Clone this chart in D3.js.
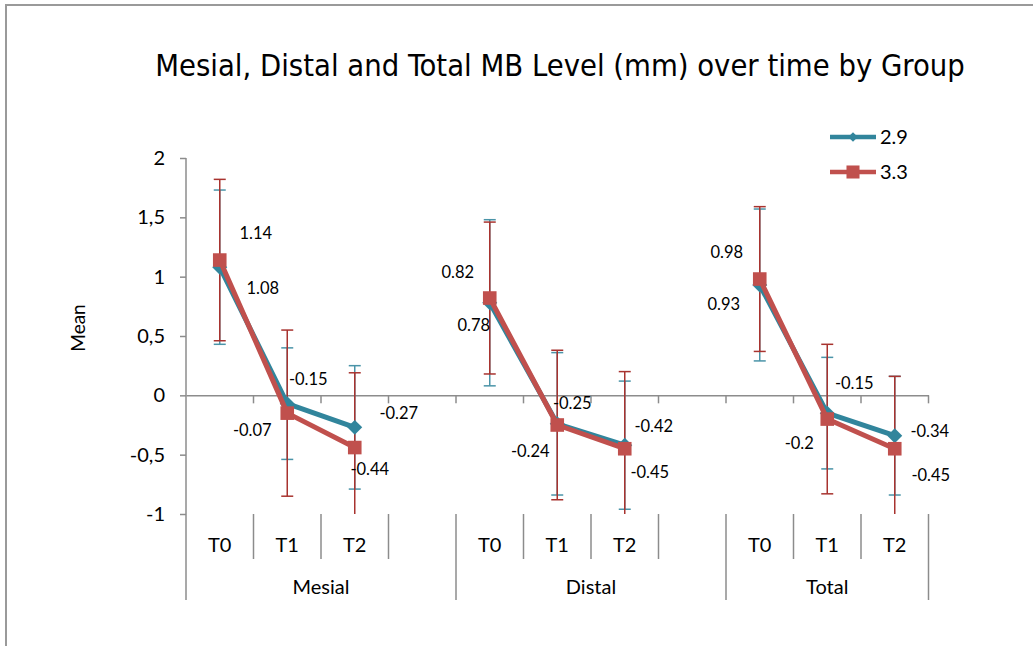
<!DOCTYPE html>
<html>
<head>
<meta charset="utf-8">
<script src="https://cdn.jsdelivr.net/npm/d3@7"></script>
<style>
  body { margin: 0; background: #fff; }
  svg { display: block; }
</style>
</head>
<body>
<div id="chart"></div>
<script>
// categories: three groups of three time points, Excel leaves an empty slot after Mesial and Distal
const groups = ["Mesial", "Distal", "Total"];
const times = ["T0", "T1", "T2"];
const seriesNames = ["2.9", "3.3"];

// means, in group order (Mesial T0..T2, Distal T0..T2, Total T0..T2)
const mean29 = [1.08, -0.07, -0.27, 0.78, -0.24, -0.42, 0.93, -0.15, -0.34];
const mean33 = [1.14, -0.15, -0.44, 0.82, -0.25, -0.45, 0.98, -0.2, -0.45];
// error bar half lengths (sd) estimated from the whiskers
const sd29 = [0.65, 0.47, 0.52, 0.70, 0.60, 0.54, 0.64, 0.47, 0.50];
const sd33 = [0.68, 0.70, 0.63, 0.64, 0.63, 0.65, 0.61, 0.63, 0.61];

const yTicks = [-1, -0.5, 0, 0.5, 1, 1.5, 2];
const yTickLabels = ["-1", "-0,5", "0", "0,5", "1", "1,5", "2"];

// where Excel dropped each data label, relative to its point (layout, not data)
const labelOffsets29 = [[43, 21], [-35, 27], [44, -14], [-16, 22], [-27, 27], [29, -19], [-36, 19], [27, -30], [35, -4]];
const labelOffsets33 = [[36, -27], [21, -34], [15, 22], [-32, -26], [15, -22], [25, 23], [-33, -27], [-28, 24], [36, 26]];

const width = 1033, height = 646;
const plot = { left: 186, right: 928.5, top: 158, bottom: 514 };
const colors = ["#31859C", "#C0504D"];
const errColors = ["#4A94A8", "#A8332F"];
const axisColor = "#8c8c8c";
const font = "Lato, 'Open Sans', sans-serif";

// flat slot list for the band scale
const slots = [];
groups.forEach((g, gi) => {
    times.forEach(t => slots.push(g + "|" + t));
    if (gi < groups.length - 1) slots.push(g + "|");
});

const x = d3.scaleBand(slots, [plot.left, plot.right]).padding(0);
const y = d3.scaleLinear([-1, 2], [plot.bottom, plot.top]);
const cx = (i) => {
    const key = groups[Math.floor(i / 3)] + "|" + times[i % 3];
    return x(key) + x.bandwidth() / 2;
};

const series = [
    { name: seriesNames[0], mean: mean29, sd: sd29, offsets: labelOffsets29 },
    { name: seriesNames[1], mean: mean33, sd: sd33, offsets: labelOffsets33 }
];

const svg = d3.select("#chart").append("svg")
    .attr("width", width)
    .attr("height", height)
    .attr("viewBox", `0 0 ${width} ${height}`);

// chart area frame (only top and left edges are inside the picture)
svg.append("path")
    .attr("d", `M6,${height} V5 H${width}`)
    .attr("fill", "none")
    .attr("stroke", "#9a9a9a")
    .attr("stroke-width", 2);

// title, stretched to the width it has in the original
const title = svg.append("text")
    .attr("x", 560)
    .attr("y", 76)
    .attr("text-anchor", "middle")
    .attr("font-family", "'DejaVu Sans Condensed', 'DejaVu Sans', sans-serif")
    .attr("font-size", 27)
    .attr("fill", "#000")
    .text("Mesial, Distal and Total MB Level (mm) over time by Group");
const titleLen = title.node().getComputedTextLength();
if (titleLen > 0) title.attr("font-size", 27 * 810 / titleLen);

// y axis
const yAxis = d3.axisLeft(y)
    .tickValues(yTicks)
    .tickSize(6)
    .tickPadding(15)
    .tickFormat((d, i) => yTickLabels[i]);

svg.append("g")
    .attr("transform", `translate(${plot.left},0)`)
    .call(yAxis)
    .call(g => g.select(".domain").remove())
    .call(g => g.selectAll(".tick line").attr("stroke", axisColor).attr("stroke-width", 1.5))
    .call(g => g.selectAll(".tick text")
        .attr("font-family", font)
        .attr("font-size", 20)
        .attr("fill", "#000"));

svg.append("line")
    .attr("x1", plot.left).attr("x2", plot.left)
    .attr("y1", plot.top).attr("y2", 600)
    .attr("stroke", axisColor).attr("stroke-width", 1.5);

svg.append("text")
    .attr("transform", `translate(85,${(plot.top + plot.bottom) / 2 - 8}) rotate(-90)`)
    .attr("text-anchor", "middle")
    .attr("font-family", font)
    .attr("font-size", 19)
    .attr("fill", "#000")
    .text("Mean");

// category axis crossing at zero, tick at every slot boundary
svg.append("g")
    .attr("transform", `translate(0,${y(0)})`)
    .call(d3.axisBottom(x).tickSize(0).tickFormat(""))
    .call(g => g.select(".domain").attr("stroke", axisColor).attr("stroke-width", 1.5))
    .call(g => g.selectAll(".tick").remove());

svg.append("g")
    .selectAll("line")
    .data(slots)
    .join("line")
    .attr("x1", s => x(s) + x.bandwidth()).attr("x2", s => x(s) + x.bandwidth())
    .attr("y1", y(0)).attr("y2", y(0) + 8)
    .attr("stroke", axisColor).attr("stroke-width", 1.5);

// multi-level labels below the plot
const labels = svg.append("g");
slots.forEach((s, i) => {
    const [g, t] = s.split("|");
    const left = x(s);
    const isGroupStart = i === 0 || slots[i - 1].split("|")[0] !== g;
    if (!isGroupStart) {
        labels.append("line")
            .attr("x1", left).attr("x2", left)
            .attr("y1", plot.bottom).attr("y2", 559)
            .attr("stroke", axisColor).attr("stroke-width", 1.5);
    } else if (i > 0) {
        labels.append("line")
            .attr("x1", left).attr("x2", left)
            .attr("y1", plot.bottom).attr("y2", 600)
            .attr("stroke", axisColor).attr("stroke-width", 1.5);
    }
    if (t) {
        labels.append("text")
            .attr("x", left + x.bandwidth() / 2)
            .attr("y", 552)
            .attr("text-anchor", "middle")
            .attr("font-family", font)
            .attr("font-size", 20)
            .attr("fill", "#000")
            .text(t);
    }
});
labels.append("line")
    .attr("x1", plot.right).attr("x2", plot.right)
    .attr("y1", plot.bottom).attr("y2", 600)
    .attr("stroke", axisColor).attr("stroke-width", 1.5);

groups.forEach(g => {
    const own = slots.filter(s => s.split("|")[0] === g);
    const x0 = x(own[0]);
    const x1 = x(own[own.length - 1]) + x.bandwidth();
    labels.append("text")
        .attr("x", (x0 + x1) / 2)
        .attr("y", 594)
        .attr("text-anchor", "middle")
        .attr("font-family", font)
        .attr("font-size", 20)
        .attr("fill", "#000")
        .text(g);
});

// error bars, clipped to the value axis
const [yMin, yMax] = y.domain();
series.forEach((s, si) => {
    const eb = svg.append("g").attr("stroke", errColors[si]).attr("stroke-width", 1.5);
    s.mean.forEach((m, i) => {
        const hi = m + s.sd[i], lo = m - s.sd[i];
        const px = cx(i);
        eb.append("line")
            .attr("x1", px).attr("x2", px)
            .attr("y1", y(Math.min(hi, yMax))).attr("y2", y(Math.max(lo, yMin)));
        [hi, lo].filter(v => v <= yMax && v >= yMin).forEach(v => {
            eb.append("line")
                .attr("x1", px - 6).attr("x2", px + 6)
                .attr("y1", y(v)).attr("y2", y(v));
        });
    });
});

// lines (one per group, not joined across groups) and markers
series.forEach((s, si) => {
    const g = svg.append("g");
    const line = d3.line().x(i => cx(i)).y(i => y(s.mean[i]));
    groups.forEach((grp, gi) => {
        g.append("path")
            .attr("fill", "none")
            .attr("stroke", colors[si])
            .attr("stroke-width", 5)
            .attr("stroke-linejoin", "round")
            .attr("d", line([gi * 3, gi * 3 + 1, gi * 3 + 2]));
    });
    g.selectAll(".mk")
        .data(s.mean)
        .join("path")
        .attr("class", "mk")
        .attr("transform", (m, i) => `translate(${cx(i)},${y(m)}) rotate(${si === 0 ? 45 : 0})`)
        .attr("d", d3.symbol(d3.symbolSquare, si === 0 ? 112 : 185))
        .attr("fill", colors[si]);
});

// data labels
series.forEach(s => {
    svg.append("g")
        .selectAll("text")
        .data(s.mean)
        .join("text")
        .attr("x", (m, i) => cx(i) + s.offsets[i][0])
        .attr("y", (m, i) => y(m) + s.offsets[i][1])
        .attr("dy", "0.35em")
        .attr("text-anchor", "middle")
        .attr("font-family", font)
        .attr("font-size", 16.5)
        .attr("fill", "#000")
        .text(m => String(m));
});

// legend
const legend = svg.append("g").attr("transform", "translate(830,137)");
series.forEach((s, si) => {
    const row = legend.append("g").attr("transform", `translate(0,${si * 35})`);
    row.append("line")
        .attr("x1", 0).attr("x2", 46)
        .attr("stroke", colors[si]).attr("stroke-width", 4.5);
    row.append("path")
        .attr("transform", `translate(23,0) rotate(${si === 0 ? 45 : 0})`)
        .attr("d", d3.symbol(d3.symbolSquare, si === 0 ? 45 : 170))
        .attr("fill", colors[si]);
    row.append("text")
        .attr("x", 50)
        .attr("dy", "0.35em")
        .attr("font-family", font)
        .attr("font-size", 20)
        .attr("fill", "#000")
        .text(s.name);
});
</script>
</body>
</html>
